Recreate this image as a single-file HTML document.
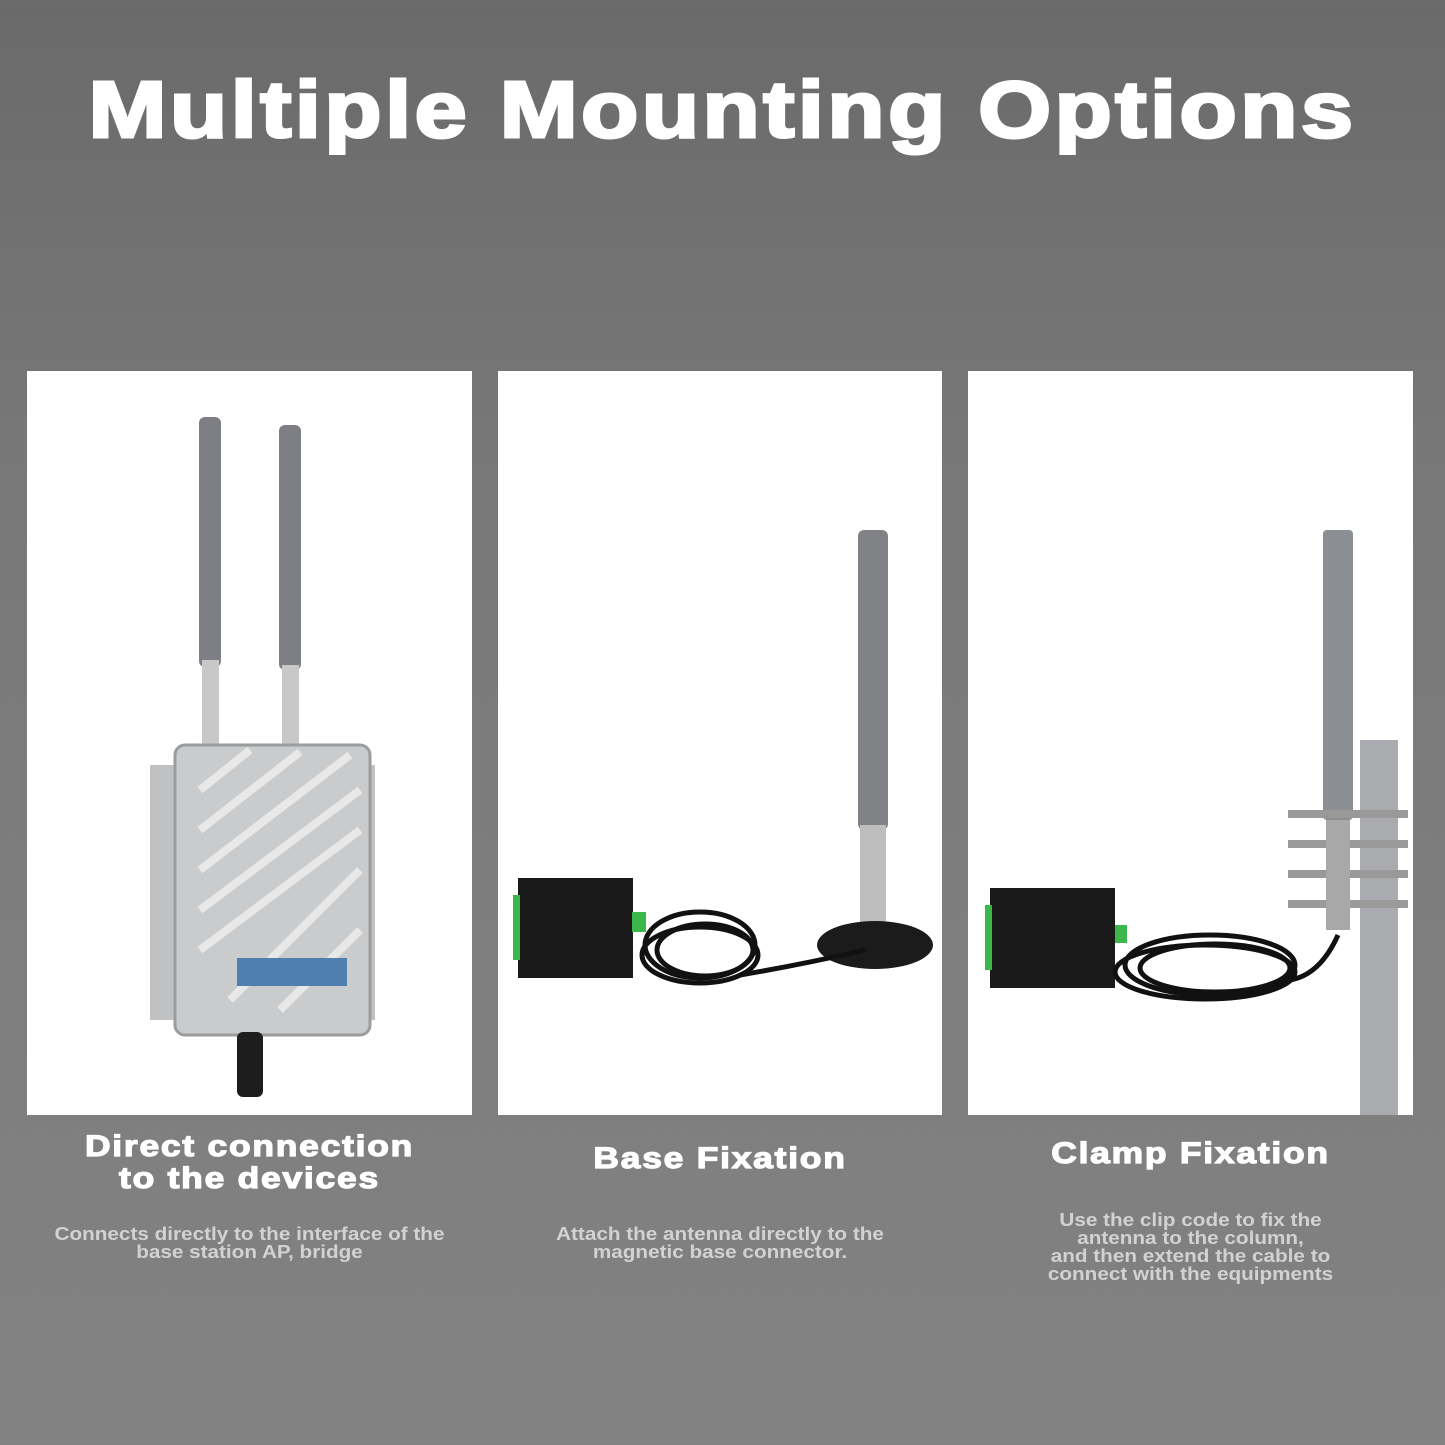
<!DOCTYPE html>
<html><head><meta charset="utf-8"><style>
*{margin:0;padding:0;box-sizing:border-box}
body{width:1445px;height:1445px;overflow:hidden;background:linear-gradient(180deg,#6a6a6a 0%,#777 30%,#7d7d7d 60%,#828282 100%);font-family:"Liberation Sans",Arial,sans-serif;position:relative}
.t{position:absolute;left:0;width:1445px;top:64px;text-align:center;color:#fff;font-weight:900;font-size:80px;letter-spacing:3px;-webkit-text-stroke:3px #fff;transform:scaleX(1.17)}
.p{position:absolute;top:371px;height:744px;background:#fff}
.h{position:absolute;text-align:center;color:#fff;font-weight:bold;font-size:30px;line-height:32px;letter-spacing:1.5px;-webkit-text-stroke:1.2px #fff;transform:scaleX(1.18)}
.s{position:absolute;text-align:center;color:#d2d2d2;font-weight:bold;font-size:18px;line-height:18px;transform:scaleX(1.15)}
svg{position:absolute;left:0;top:0}
</style></head><body>
<div class="t">Multiple Mounting Options</div>
<div class="p" style="left:27px;width:445px"></div>
<div class="p" style="left:498px;width:444px"></div>
<div class="p" style="left:968px;width:445px"></div>
<svg width="1445" height="1115">
<rect x="199" y="417" width="22" height="250" rx="6" fill="#7d7f84"/>
<rect x="279" y="425" width="22" height="245" rx="6" fill="#7d7f84"/>
<rect x="202" y="660" width="17" height="90" fill="#c8c8c8"/>
<rect x="282" y="665" width="17" height="85" fill="#c8c8c8"/>
<rect x="150" y="765" width="30" height="255" fill="#bfc1c3"/>
<rect x="345" y="765" width="30" height="255" fill="#bfc1c3"/>
<rect x="175" y="745" width="195" height="290" rx="10" fill="#c9cbcd" stroke="#9a9c9e" stroke-width="3"/>
<g stroke="#e8e8e8" stroke-width="8">
<line x1="200" y1="790" x2="250" y2="750"/><line x1="200" y1="830" x2="300" y2="752"/><line x1="200" y1="870" x2="350" y2="755"/><line x1="200" y1="910" x2="360" y2="790"/><line x1="200" y1="950" x2="360" y2="830"/><line x1="230" y1="1000" x2="360" y2="870"/><line x1="280" y1="1010" x2="360" y2="930"/>
</g>
<rect x="237" y="958" width="110" height="28" fill="#4f7fae"/>
<rect x="237" y="1032" width="26" height="65" rx="6" fill="#1d1d1d"/>
<rect x="858" y="530" width="30" height="300" rx="6" fill="#808285"/>
<rect x="860" y="825" width="26" height="100" fill="#bdbdbd"/>
<ellipse cx="875" cy="945" rx="58" ry="24" fill="#1b1b1b"/>
<rect x="518" y="878" width="115" height="100" fill="#1a1a1a"/>
<rect x="513" y="895" width="7" height="65" fill="#3cb84a"/>
<rect x="632" y="912" width="14" height="20" fill="#3cb84a"/>
<g fill="none" stroke="#111" stroke-width="5">
<ellipse cx="700" cy="945" rx="55" ry="33"/><ellipse cx="705" cy="950" rx="48" ry="26"/><ellipse cx="700" cy="955" rx="58" ry="28"/>
<path d="M740 975 Q800 965 865 950"/>
</g>
<rect x="1323" y="530" width="30" height="290" rx="4" fill="#8b8e92"/>
<rect x="1360" y="740" width="38" height="375" fill="#a9abae"/>
<rect x="1288" y="810" width="120" height="8" fill="#999"/>
<rect x="1288" y="840" width="120" height="8" fill="#999"/>
<rect x="1288" y="870" width="120" height="8" fill="#999"/>
<rect x="1288" y="900" width="120" height="8" fill="#999"/>
<rect x="1326" y="820" width="24" height="110" fill="#a8a8a8"/>
<rect x="990" y="888" width="125" height="100" fill="#1a1a1a"/>
<rect x="985" y="905" width="7" height="65" fill="#3cb84a"/>
<rect x="1115" y="925" width="12" height="18" fill="#3cb84a"/>
<g fill="none" stroke="#111" stroke-width="5">
<ellipse cx="1210" cy="965" rx="85" ry="30"/><ellipse cx="1215" cy="968" rx="75" ry="24"/><ellipse cx="1205" cy="972" rx="90" ry="27"/>
<path d="M1290 980 Q1320 975 1338 935"/>
</g>
</svg>
<div class="h" style="left:27px;width:445px;top:1131px">Direct connection<br>to the devices</div>
<div class="s" style="left:27px;width:445px;top:1225px">Connects directly to the interface of the<br>base station AP, bridge</div>
<div class="h" style="left:498px;width:444px;top:1143px">Base Fixation</div>
<div class="s" style="left:498px;width:444px;top:1225px">Attach the antenna directly to the<br>magnetic base connector.</div>
<div class="h" style="left:968px;width:445px;top:1138px">Clamp Fixation</div>
<div class="s" style="left:968px;width:445px;top:1211px">Use the clip code to fix the<br>antenna to the column,<br>and then extend the cable to<br>connect with the equipments</div>
</body></html>
